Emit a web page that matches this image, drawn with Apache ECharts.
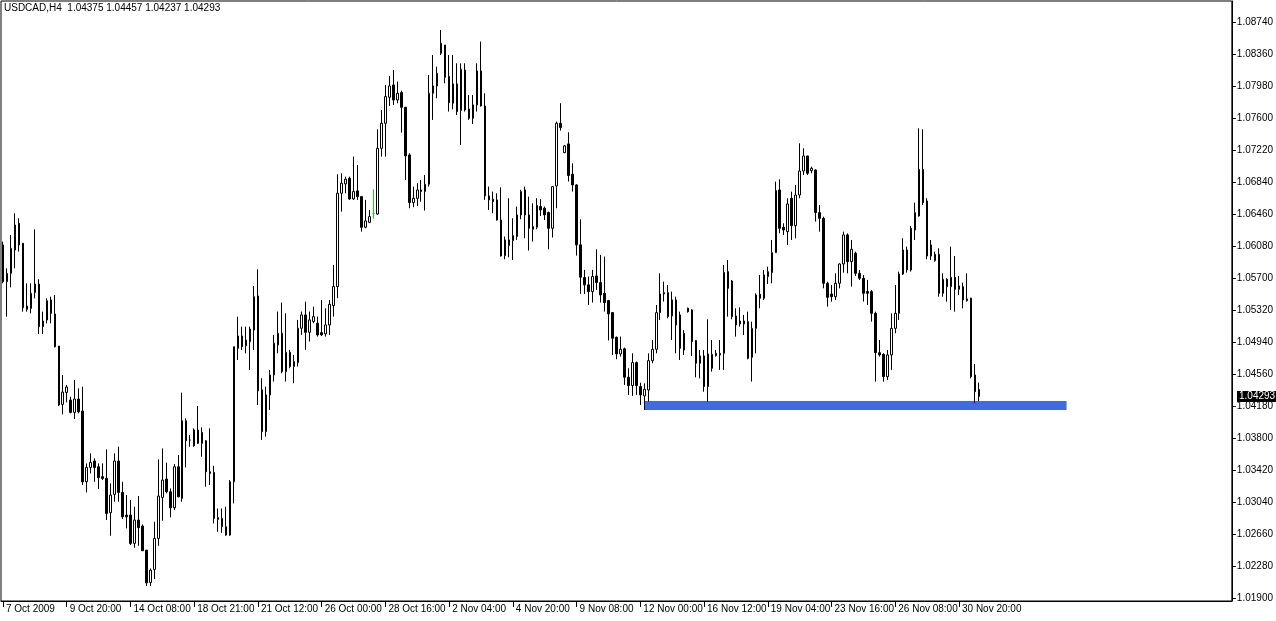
<!DOCTYPE html>
<html><head><meta charset="utf-8">
<script src="https://cdn.jsdelivr.net/npm/echarts@6/dist/echarts.min.js"></script>
<style>html,body{margin:0;padding:0;background:#fff}#c{width:1276px;height:621px}</style>
</head><body><div id="c"></div><script>
const symbol = 'USDCAD,H4';
const opens = [
1.06092,1.05656,1.05755,1.06032,1.06349,1.06112,1.05367,1.05339,1.05526,1.05628,
1.05122,1.05201,1.05438,1.05272,1.04892,1.04199,1.04341,1.04250,1.04104,1.04262,
1.04120,1.03280,1.03450,1.03526,1.03458,1.03340,1.03320,1.02912,1.03130,1.03526,
1.03153,1.02884,1.02884,1.02548,1.02825,1.02754,1.02468,1.02084,1.02239,1.02607,
1.03094,1.03312,1.03161,1.02971,1.03458,1.03082,1.04005,1.03775,1.03894,1.03736,
1.03866,1.03767,1.03399,1.03391,1.02853,1.02845,1.02746,1.02647,1.03280,1.04864,
1.05011,1.04896,1.04943,1.05082,1.05486,1.04371,1.03876,1.04311,1.04549,1.04905,
1.05043,1.04588,1.04818,1.04648,1.04695,1.05103,1.05261,1.05055,1.05182,1.05162,
1.05051,1.05036,1.05142,1.05372,1.05598,1.06706,1.06817,1.06884,1.06639,1.06734,
1.06666,1.06302,1.06361,1.06468,1.06460,1.07240,1.07537,1.07846,1.07992,1.07814,
1.07901,1.07727,1.07161,1.06595,1.06646,1.06745,1.06726,1.06813,1.07893,1.07980,
1.08368,1.08467,1.08091,1.07775,1.08004,1.07688,1.08170,1.07707,1.07596,1.07755,
1.08158,1.07743,1.06674,1.06635,1.06627,1.06389,1.05966,1.06085,1.06144,1.06192,
1.06449,1.06746,1.06449,1.06279,1.06302,1.06548,1.06528,1.06476,1.06290,1.06793,
1.07537,1.07189,1.07292,1.06932,1.06805,1.06093,1.05705,1.05618,1.05538,1.05724,
1.05645,1.05519,1.05432,1.05289,1.04996,1.04798,1.04858,1.04521,1.04422,1.04695,
1.04410,1.04299,1.04370,1.04718,1.04853,1.05288,1.05510,1.05526,1.05249,1.05439,
1.05261,1.04845,1.05340,1.05320,1.04956,1.04687,1.04774,1.04410,1.04627,1.04778,
1.04786,1.04805,1.05775,1.05664,1.05249,1.05189,1.05154,1.05181,1.04758,1.05102,
1.05506,1.05459,1.05716,1.05763,1.06001,1.06745,1.06302,1.06250,1.06646,1.06321,
1.06685,1.06970,1.07149,1.06974,1.06982,1.06476,1.06408,1.05637,1.05510,1.05478,
1.05637,1.05866,1.06211,1.05894,1.05993,1.05755,1.05696,1.05538,1.05538,1.05280,
1.04813,1.04793,1.04528,1.04786,1.05102,1.05280,1.05747,1.06032,1.05795,1.06270,
1.06436,1.06990,1.06614,1.05961,1.05906,1.05981,1.05518,1.05684,1.05597,1.05708,
1.05565,1.05597,1.05451,1.05459,1.04548,1.04375];
const closes = [
1.05656,1.05755,1.06052,1.06329,1.06092,1.05347,1.05328,1.05518,1.05628,1.05122,
1.05189,1.05430,1.05280,1.04884,1.04191,1.04345,1.04405,1.04104,1.04262,1.04112,
1.03280,1.03450,1.03510,1.03450,1.03328,1.03320,1.02904,1.03122,1.03526,1.03153,
1.02864,1.02864,1.02548,1.02825,1.02734,1.02461,1.02080,1.02231,1.02607,1.03110,
1.03300,1.03161,1.02971,1.03458,1.03102,1.04005,1.03767,1.03775,1.03708,1.03894,
1.03736,1.03399,1.03379,1.02845,1.02833,1.02746,1.02647,1.03280,1.04884,1.05011,
1.04884,1.04963,1.05094,1.05478,1.04361,1.03876,1.04311,1.04549,1.04925,1.05043,
1.04588,1.04818,1.04648,1.04707,1.05103,1.05261,1.05055,1.05202,1.05241,1.05024,
1.05024,1.05142,1.05388,1.05598,1.06706,1.06825,1.06872,1.06639,1.06726,1.06666,
1.06302,1.06377,1.06429,1.06468,1.07240,1.07537,1.07854,1.07980,1.07814,1.07893,
1.07727,1.07149,1.06595,1.06646,1.06745,1.06726,1.06813,1.07893,1.07980,1.08131,
1.08487,1.08083,1.07782,1.08004,1.07676,1.08178,1.07695,1.07596,1.07755,1.08158,
1.07743,1.06674,1.06627,1.06607,1.06389,1.05962,1.06152,1.06152,1.06203,1.06449,
1.06726,1.06449,1.06290,1.06310,1.06560,1.06508,1.06449,1.06290,1.06785,1.07537,
1.07486,1.07268,1.06916,1.06805,1.06093,1.05709,1.05618,1.05538,1.05717,1.05645,
1.05499,1.05408,1.05273,1.04984,1.04798,1.04854,1.04521,1.04422,1.04695,1.04422,
1.04311,1.04378,1.04718,1.04853,1.05288,1.05510,1.05526,1.05241,1.05439,1.05142,
1.04865,1.05043,1.05300,1.04944,1.04687,1.04774,1.04410,1.04797,1.04793,1.04805,
1.04805,1.05767,1.05577,1.05241,1.05142,1.05154,1.05189,1.04746,1.05102,1.05498,
1.05459,1.05736,1.05775,1.06001,1.06737,1.06290,1.06270,1.06579,1.06321,1.06685,
1.06970,1.07149,1.06943,1.07002,1.06476,1.06408,1.05637,1.05470,1.05478,1.05637,
1.05866,1.06211,1.05894,1.06040,1.05755,1.05696,1.05518,1.05518,1.05280,1.04813,
1.04786,1.04528,1.04786,1.05102,1.05280,1.05747,1.06032,1.05795,1.06290,1.06476,
1.06990,1.06594,1.05961,1.06092,1.05981,1.05518,1.05684,1.05597,1.05708,1.05565,
1.05605,1.05439,1.05431,1.04528,1.04350,1.04293];
const lows = [
1.05636,1.05240,1.05589,1.05815,1.06013,1.05300,1.05300,1.05280,1.05458,1.05034,
1.05034,1.05161,1.05161,1.04874,1.04179,1.04080,1.04223,1.04092,1.04025,1.04092,
1.03241,1.03153,1.03379,1.03280,1.03193,1.03300,1.02825,1.02639,1.03043,1.03043,
1.02837,1.02726,1.02528,1.02496,1.02520,1.02461,1.02041,1.02041,1.02124,1.02520,
1.02817,1.03142,1.02857,1.02944,1.03094,1.03043,1.03450,1.03696,1.03696,1.03728,
1.03577,1.03221,1.03241,1.02785,1.02686,1.02674,1.02639,1.02639,1.03023,1.04726,
1.04844,1.04805,1.04607,1.04844,1.04191,1.03777,1.03816,1.04133,1.04470,1.04806,
1.04568,1.04470,1.04628,1.04450,1.04648,1.05024,1.04846,1.04945,1.05162,1.05004,
1.05012,1.05004,1.05024,1.05241,1.05459,1.06488,1.06706,1.06627,1.06627,1.06627,
1.06251,1.06290,1.06350,1.06401,1.06449,1.07141,1.07141,1.07743,1.07755,1.07775,
1.07426,1.06864,1.06528,1.06540,1.06555,1.06607,1.06500,1.06785,1.07577,1.07834,
1.08348,1.08012,1.07676,1.07703,1.07636,1.07280,1.07676,1.07577,1.07529,1.07676,
1.07735,1.06627,1.06508,1.06468,1.06381,1.05954,1.05922,1.05946,1.05914,1.06152,
1.06397,1.06172,1.06025,1.06132,1.06279,1.06437,1.06389,1.06041,1.06180,1.06528,
1.07450,1.07181,1.06845,1.06726,1.05966,1.05511,1.05511,1.05380,1.05408,1.05558,
1.05408,1.05301,1.04957,1.04786,1.04735,1.04767,1.04430,1.04311,1.04300,1.04311,
1.04192,1.04132,1.04231,1.04687,1.04805,1.05201,1.05419,1.05221,1.04964,1.04805,
1.04726,1.04786,1.05288,1.04774,1.04520,1.04508,1.04350,1.04231,1.04588,1.04766,
1.04608,1.04608,1.05241,1.05209,1.05003,1.05122,1.05023,1.04734,1.04469,1.04805,
1.05340,1.05439,1.05629,1.05637,1.06001,1.06230,1.06211,1.06092,1.06151,1.06171,
1.06646,1.06923,1.06923,1.06943,1.06369,1.06250,1.05577,1.05360,1.05419,1.05439,
1.05577,1.05763,1.05755,1.05597,1.05724,1.05676,1.05419,1.05379,1.05181,1.04469,
1.04766,1.04469,1.04489,1.04608,1.05043,1.05201,1.05736,1.05763,1.05775,1.06151,
1.06428,1.06567,1.05922,1.05914,1.05894,1.05478,1.05478,1.05419,1.05320,1.05300,
1.05498,1.05340,1.05419,1.04508,1.04212,1.04237];
const highs = [
1.06131,1.05815,1.06211,1.06468,1.06409,1.06112,1.05636,1.05636,1.06278,1.05684,
1.05300,1.05458,1.05478,1.05498,1.04892,1.04547,1.04429,1.04290,1.04488,1.04389,
1.04409,1.03498,1.03617,1.03557,1.03498,1.03498,1.03664,1.03260,1.03617,1.03696,
1.03280,1.03122,1.03063,1.02983,1.03110,1.02773,1.02468,1.02251,1.02805,1.03545,
1.03676,1.03506,1.03201,1.03490,1.03597,1.04338,1.04033,1.03835,1.03914,1.04179,
1.03926,1.03775,1.03914,1.03470,1.02963,1.02963,1.02983,1.03300,1.04884,1.05240,
1.05122,1.05122,1.05122,1.05605,1.05803,1.04509,1.04410,1.04608,1.05024,1.05301,
1.05408,1.05281,1.04846,1.04786,1.05202,1.05301,1.05419,1.05301,1.05360,1.05241,
1.05439,1.05340,1.05439,1.05855,1.06931,1.06943,1.06904,1.06904,1.07141,1.07042,
1.06666,1.06627,1.06508,1.06753,1.07466,1.07695,1.07992,1.08099,1.08170,1.08032,
1.07925,1.07727,1.07181,1.06785,1.06825,1.06864,1.06923,1.08111,1.08348,1.08210,
1.08645,1.08467,1.08348,1.08348,1.08249,1.08249,1.08249,1.07873,1.07873,1.08249,
1.08507,1.07893,1.06785,1.06726,1.06706,1.06777,1.06192,1.06647,1.06409,1.06548,
1.06746,1.06785,1.06666,1.06587,1.06647,1.06635,1.06548,1.06488,1.06785,1.07557,
1.07775,1.07280,1.07430,1.07062,1.06813,1.06397,1.05796,1.05717,1.05796,1.06041,
1.05974,1.05954,1.05440,1.05289,1.05004,1.05004,1.04873,1.04628,1.04806,1.04707,
1.04457,1.04449,1.04805,1.04964,1.05379,1.05755,1.05656,1.05617,1.05538,1.05478,
1.05300,1.05082,1.05348,1.05328,1.04964,1.04845,1.04845,1.05209,1.04964,1.04845,
1.04964,1.05854,1.05914,1.05676,1.05340,1.05352,1.05261,1.05300,1.05181,1.05518,
1.05736,1.05795,1.05834,1.06151,1.06844,1.06871,1.06349,1.06646,1.06725,1.06804,
1.07299,1.07240,1.07149,1.07022,1.06990,1.06567,1.06428,1.05656,1.05617,1.05755,
1.05874,1.06250,1.06230,1.06151,1.06013,1.05795,1.05736,1.05676,1.05557,1.05300,
1.04964,1.04805,1.04845,1.05280,1.05617,1.05775,1.06171,1.06072,1.06317,1.06594,
1.07477,1.07465,1.06646,1.06151,1.06013,1.06052,1.05755,1.05696,1.06072,1.05961,
1.05724,1.05644,1.05755,1.05466,1.04679,1.04457];
const timeLabels = ['7 Oct 2009','9 Oct 20:00','14 Oct 08:00','18 Oct 21:00','21 Oct 12:00','26 Oct 00:00','28 Oct 16:00','2 Nov 04:00','4 Nov 20:00','9 Nov 08:00','12 Nov 00:00','16 Nov 12:00','19 Nov 04:00','23 Nov 16:00','26 Nov 08:00','30 Nov 20:00'];
const yTicks = [1.01900,1.02280,1.02660,1.03040,1.03420,1.03800,1.04180,1.04560,1.04940,1.05320,1.05700,1.06080,1.06460,1.06840,1.07220,1.07600,1.07980,1.08360,1.08740];
const greenDoji = 93;
const supportBand = {from: 161, to: 267, low: 1.04133, high: 1.04239};
const slotCount = 309;
const labelEvery = 16;

const FONT = '"Liberation Sans", Arial, sans-serif';
const last = opens.length - 1;
const categories = Array.from({length: slotCount}, (_, i) => String(i));
const candles = opens.map((o, i) => {
  const v = [o, closes[i], lows[i], highs[i]];
  if (i === greenDoji) return {value: v, itemStyle: {color: '#22cc22', color0: '#22cc22', borderColor: '#22cc22', borderColor0: '#22cc22'}};
  return v;
});
const showIdx = (idx) => idx % labelEvery === 0 && idx / labelEvery < timeLabels.length;
const header = symbol + '  ' + [opens[last], highs[last], lows[last], closes[last]].map(v => v.toFixed(5)).join(' ');

const chart = echarts.init(document.getElementById('c'), null, {renderer: 'canvas'});
chart.setOption({
  animation: false,
  backgroundColor: '#ffffff',
  grid: {left: 1, top: 1, width: 1234, bottom: 20, show: true, borderColor: '#000', borderWidth: 1, backgroundColor: '#fff'},
  graphic: [{type: 'text', left: 4, top: 3, z: 100, style: {text: header, font: '10px ' + FONT, fill: '#000'}}],
  xAxis: {
    type: 'category', data: categories, boundaryGap: true,
    axisLine: {show: true, lineStyle: {color: '#000', width: 1}},
    axisTick: {show: true, alignWithLabel: true, interval: showIdx, length: 6, lineStyle: {color: '#000'}},
    axisLabel: {interval: showIdx, formatter: (v, idx) => timeLabels[Math.round(Number(v) / labelEvery)] || '', align: 'left', color: '#000', fontSize: 10, fontFamily: FONT, margin: 3, padding: [0, 0, 0, 3]},
    splitLine: {show: false}
  },
  yAxis: {
    type: 'value', position: 'right', min: 1.01864, max: 1.08989, scale: true,
    splitLine: {show: false},
    axisLine: {show: true, lineStyle: {color: '#000', width: 1}},
    axisTick: {show: true, length: 4, customValues: yTicks, lineStyle: {color: '#000'}},
    axisLabel: {customValues: yTicks, formatter: v => v.toFixed(5), color: '#000', fontSize: 10, fontFamily: FONT, margin: 5}
  },
  series: [{
    type: 'candlestick', data: candles, barWidth: 2, silent: true,
    itemStyle: {color: '#ffffff', color0: '#000000', borderColor: '#000000', borderColor0: '#000000', borderWidth: 1},
    markArea: {silent: true, itemStyle: {color: '#4169e1', opacity: 1}, data: [[{xAxis: supportBand.from, yAxis: supportBand.high}, {xAxis: supportBand.to, yAxis: supportBand.low}]]}
  }]
});

// current-price tag on the price axis, positioned through the axis scale
const tagY = chart.convertToPixel({yAxisIndex: 0}, closes[last]);
const axisX = chart.convertToPixel({xAxisIndex: 0}, categories[slotCount - 1]) + 1235 - chart.convertToPixel({xAxisIndex: 0}, categories[slotCount - 1]);
chart.setOption({
  graphic: [
    {type: 'text', left: 4, top: 3, z: 100, style: {text: header, font: '10px ' + FONT, fill: '#000'}},
    {type: 'text', x: axisX + 2, y: tagY, z: 100, style: {text: closes[last].toFixed(5), font: '10px ' + FONT, fill: '#fff', backgroundColor: '#000', padding: [1, 2, 0, 2], verticalAlign: 'middle', align: 'left'}}
  ]
});
</script></body></html>
